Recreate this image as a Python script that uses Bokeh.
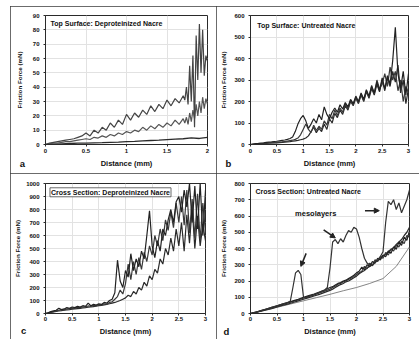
from bokeh.plotting import figure
from bokeh.layouts import column, row
from bokeh.models import Label, Arrow, NormalHead, FixedTicker, Range1d
from bokeh.embed import file_html
from bokeh.resources import INLINE

# ---------------- data ----------------
# Panel a: Top Surface, Deproteinized Nacre (friction force in mN)
XA = [0.0, 0.05, 0.1, 0.15, 0.2, 0.25, 0.3, 0.35, 0.4, 0.45, 0.5, 0.55, 0.6, 0.65, 0.7,
      0.75, 0.8, 0.85, 0.9, 0.95, 1.0, 1.05, 1.1, 1.15, 1.2, 1.25, 1.3, 1.35, 1.4, 1.45,
      1.5, 1.55, 1.6, 1.65, 1.7, 1.72, 1.74, 1.76, 1.78, 1.8, 1.82, 1.84, 1.86, 1.88, 1.9,
      1.92, 1.94, 1.96, 1.98, 2.0]
A1 = [0, 1, 1.5, 2, 2.5, 3, 3.5, 4, 5, 6, 8, 6, 10, 8, 12, 10, 15, 12, 17, 14,
      21, 17, 22, 19, 24, 21, 27, 23, 28, 25, 31, 27, 32, 29, 34, 31, 40, 28, 55, 30,
      62, 12, 76, 45, 84, 50, 80, 48, 62, 58]
A2 = [0, 0.5, 1, 1, 1.5, 2, 2, 2.5, 3, 3.5, 4, 3.5, 5, 4.5, 6, 5, 7, 6, 8, 7,
      9, 8, 10, 9, 12, 10, 13, 11, 14, 12, 15, 13, 17, 14, 18, 15, 19, 14, 22, 16,
      24, 18, 28, 20, 30, 22, 33, 25, 32, 28]
XA3 = [0.0, 0.1, 0.2, 0.3, 0.4, 0.5, 0.6, 0.7, 0.8, 0.9, 1.0, 1.1, 1.2, 1.3, 1.4, 1.5,
       1.6, 1.7, 1.8, 1.9, 2.0]
A3 = [0, 0.3, 0.5, 0.7, 0.9, 1.0, 1.2, 1.3, 1.5, 1.7, 2.0, 2.2, 2.5, 2.8, 3.0, 3.4,
      3.8, 4.0, 4.6, 4.2, 5.0]

# shared distance samples (mm) for panels b, c
XB = [0.0, 0.05, 0.1, 0.15, 0.2, 0.25, 0.3, 0.35, 0.4, 0.45, 0.5, 0.55, 0.6, 0.65, 0.7,
      0.75, 0.8, 0.85, 0.9, 0.95, 1.0, 1.05, 1.1, 1.15, 1.2, 1.25, 1.3, 1.35, 1.4, 1.45,
      1.5, 1.55, 1.6, 1.65, 1.7, 1.75, 1.8, 1.85, 1.9, 1.95, 2.0, 2.05, 2.1, 2.15, 2.2,
      2.25, 2.3, 2.35, 2.4, 2.45, 2.5, 2.55, 2.6, 2.65, 2.7, 2.75, 2.8, 2.85, 2.9, 2.95, 3.0]

# Panel b: Top Surface, Untreated Nacre
B1 = [0, 2, 4, 5, 7, 8, 10, 11, 12, 14, 15, 17, 19, 21, 24, 28, 35, 60, 95, 120,
      135, 110, 75, 95, 120, 100, 140, 115, 175, 140, 120, 150, 170, 150, 185, 165, 195,
      175, 210, 190, 225, 200, 240, 210, 255, 225, 270, 240, 290, 250, 310, 260, 320,
      280, 390, 545, 330, 260, 340, 230, 330]
B2 = [0, 1, 2, 3, 4, 5, 6, 7, 8, 9, 10, 11, 12, 14, 16, 18, 20, 24, 30, 45,
      70, 95, 70, 55, 90, 65, 85, 70, 110, 90, 140, 120, 160, 135, 170, 150, 190,
      165, 205, 185, 220, 195, 235, 205, 250, 220, 275, 235, 300, 260, 280, 330, 270,
      360, 300, 340, 250, 300, 200, 270, 240]
B3 = [0, 1, 2, 2, 3, 4, 5, 6, 7, 7, 8, 9, 10, 11, 12, 13, 15, 17, 19, 22,
      25, 30, 40, 60, 80, 55, 75, 60, 95, 70, 120, 100, 145, 125, 160, 140, 180,
      160, 200, 180, 215, 190, 230, 200, 245, 215, 260, 230, 280, 245, 300, 250, 310,
      270, 340, 290, 370, 240, 300, 190, 260]

# Panel c: Cross Section, Deproteinized Nacre
C1 = [0, 5, 15, 20, 25, 40, 30, 35, 45, 40, 50, 45, 55, 50, 60, 55, 80, 60, 70, 65,
      75, 70, 85, 80, 100, 110, 160, 410, 250, 200, 330, 280, 460, 330, 420, 360, 480,
      420, 600, 790, 520, 430, 560, 480, 650, 600, 720, 800, 700, 860, 900, 780, 950,
      820, 1000, 700, 980, 650, 1000, 600, 950]
C2 = [0, 5, 10, 15, 20, 25, 30, 28, 35, 38, 42, 40, 48, 45, 52, 50, 58, 55, 62, 60,
      68, 66, 75, 72, 85, 90, 110, 130, 180, 150, 230, 380, 260, 400, 300, 430, 340,
      470, 400, 520, 450, 600, 520, 650, 560, 720, 640, 780, 660, 850, 700, 900, 680,
      950, 620, 880, 580, 920, 560, 850, 620]
C3 = [0, 3, 8, 12, 16, 20, 22, 25, 28, 30, 33, 35, 38, 40, 43, 45, 48, 50, 53, 56,
      60, 62, 66, 70, 75, 80, 85, 92, 100, 110, 120, 140, 130, 170, 150, 200, 180,
      240, 210, 290, 260, 340, 310, 420, 380, 500, 450, 580, 480, 650, 520, 700, 480,
      760, 540, 820, 500, 750, 520, 680, 560]

# Panel d: Cross Section, Untreated Nacre
XD = [0.0, 0.1, 0.2, 0.3, 0.4, 0.5, 0.6, 0.7, 0.8, 0.9, 1.0, 1.1, 1.2, 1.3, 1.4, 1.5,
      1.55, 1.6, 1.65, 1.7, 1.75, 1.8, 1.85, 1.9, 1.95, 2.0, 2.05, 2.1, 2.15, 2.2, 2.25,
      2.3, 2.35, 2.4, 2.45, 2.5, 2.55, 2.6, 2.65, 2.7, 2.75, 2.8, 2.85, 2.9, 2.95, 3.0]
D1 = [0, 8, 18, 28, 38, 48, 58, 68, 78, 88, 100, 110, 120, 132, 145, 160,
      165, 175, 185, 190, 200, 205, 215, 225, 235, 250, 260, 285, 270, 300, 290,
      320, 310, 340, 330, 360, 350, 385, 370, 410, 395, 440, 420, 470, 450, 510]
D2 = [0, 7, 16, 25, 34, 44, 54, 64, 74, 84, 95, 105, 115, 126, 138, 150,
      160, 168, 180, 185, 195, 200, 210, 218, 228, 240, 250, 260, 290, 275, 310,
      295, 330, 320, 350, 340, 375, 360, 395, 385, 420, 410, 445, 430, 480, 470]
D3 = [0, 6, 14, 22, 30, 40, 50, 58, 68, 78, 88, 98, 108, 118, 130, 142,
      150, 160, 170, 178, 185, 195, 200, 210, 220, 230, 245, 255, 265, 280, 290,
      300, 315, 325, 340, 355, 365, 380, 395, 405, 425, 440, 455, 480, 500, 530]
XDM = [0.0, 0.1, 0.2, 0.3, 0.4, 0.5, 0.6, 0.7, 0.75, 0.8, 0.85, 0.9, 0.95, 1.0, 1.05,
       1.1, 1.2, 1.3, 1.4, 1.45, 1.5, 1.55, 1.6, 1.65, 1.7, 1.75, 1.8, 1.85, 1.9, 1.95,
       2.0, 2.05, 2.1, 2.15, 2.2, 2.25, 2.3, 2.35, 2.4, 2.45, 2.5, 2.55, 2.6, 2.65, 2.7,
       2.75, 2.8, 2.85, 2.9, 2.95, 3.0]
DM = [0, 8, 18, 28, 38, 48, 58, 68, 75, 160, 250, 265, 240, 100, 95,
      105, 115, 130, 145, 160, 280, 440, 455, 430, 460, 440, 480, 510, 500, 530,
      520, 470, 400, 340, 310, 300, 295, 315, 330, 350, 380, 560, 690, 670, 700,
      640, 680, 620, 660, 700, 760]
XDT = [0.0, 0.25, 0.5, 0.75, 1.0, 1.25, 1.5, 1.75, 2.0, 2.25, 2.5, 2.75, 3.0]
DT = [0, 20, 38, 58, 78, 98, 118, 140, 160, 185, 215, 290, 410]

# ticks
XT_A = [0, 0.5, 1, 1.5, 2]
XL_A = ["0", "0.5", "1", "1.5", "2"]
XT = [0, 0.5, 1, 1.5, 2, 2.5, 3]
XL = ["0", "0.5", "1", "1.5", "2", "2.5", "3"]
YT_A = [0, 10, 20, 30, 40, 50, 60, 70, 80, 90]
YT_B = [0, 100, 200, 300, 400, 500, 600]
YT_C = [0, 100, 200, 300, 400, 500, 600, 700, 800, 900, 1000]
YT_D = [0, 100, 200, 300, 400, 500, 600, 700, 800]

TITLES = ["Top Surface: Deproteinized Nacre", "Top Surface: Untreated Nacre",
          "Cross Section: Deproteinized Nacre", "Cross Section: Untreated Nacre"]
LETTERS = ["a", "b", "c", "d"]

# arrows in panel d: (x_start, y_start, x_end, y_end)
ARROWS_D = [(1.05, 370, 0.95, 290), (1.38, 515, 1.6, 465), (2.16, 633, 2.43, 633)]
MESO_POS = (1.23, 614)

FONT = "Liberation Sans"
INK = "#2a2a2a"
TXT = "#111111"


def panel(w, h, xmax, ymax, xt, xl, yt, borders, ylab_standoff, xstand, clip):
    left, right, top, bottom = borders
    p = figure(width=w, height=h, x_range=Range1d(0, xmax), y_range=Range1d(0, ymax),
               output_backend="svg", toolbar_location=None,
               min_border_left=left, min_border_right=right,
               min_border_top=top, min_border_bottom=bottom,
               background_fill_color="white", border_fill_color="white")
    p.outline_line_color = INK
    p.outline_line_width = 1
    p.styles = {"outline": "1px solid #3a3a3a", "outline-offset": "-1px",
                "clip-path": clip}
    p.xaxis.ticker = FixedTicker(ticks=xt)
    p.xaxis.major_label_overrides = {t: s for t, s in zip(xt, xl)}
    p.yaxis.ticker = FixedTicker(ticks=yt)
    p.yaxis.major_label_overrides = {t: str(t) for t in yt}
    for ax in (p.xaxis[0], p.yaxis[0]):
        ax.axis_line_color = INK
        ax.major_tick_line_color = INK
        ax.major_tick_out = 2
        ax.major_tick_in = 0
        ax.minor_tick_line_color = None
        ax.major_label_text_font = FONT
        ax.major_label_text_font_style = "bold"
        ax.major_label_text_font_size = "6px"
        ax.major_label_text_color = TXT
        ax.axis_label_text_font = FONT
        ax.axis_label_text_font_style = "bold"
        ax.axis_label_text_color = TXT
    p.xaxis.axis_label = "Distance (mm)"
    p.xaxis.axis_label_text_font_size = "7.5px"
    p.xaxis.major_label_standoff = xstand
    p.xaxis.axis_label_standoff = 3
    p.yaxis.axis_label = "Friction Force (mN)"
    p.yaxis.axis_label_text_font_size = "6.2px"
    p.yaxis.major_label_standoff = 4
    p.yaxis.axis_label_standoff = ylab_standoff
    p.grid.grid_line_color = "#e2e2e2"
    p.grid.grid_line_width = 1
    return p


def title_label(p, x, y, text, boxed=False):
    kw = dict(x=x, y=y, text=text, text_font=FONT, text_font_style="bold",
              text_font_size="7px", text_color=TXT, text_baseline="top",
              text_align="left")
    if boxed:
        kw.update(border_line_color="#444", border_line_width=0.8,
                  background_fill_color="white", padding=1)
    p.add_layout(Label(**kw))


def letter(p, x, y, text):
    # hosted in the narrow right side panel so that it may sit outside the frame
    p.add_layout(Label(x=x, y=y, text=text,
                       text_font=FONT, text_font_style="bold", text_font_size="9.5px",
                       text_color=TXT, text_align="center", text_baseline="middle"),
                 "right")


# ---- panel a ----
pa = panel(206, 167, 2, 90, XT_A, XL_A, YT_A, (35, 9, 7, 29), 7, 2, "none")
pa.line(XA3, A3, line_color=INK, line_width=1.3)
pa.line(XA, A2, line_color="#555", line_width=1.2)
pa.line(XA, A1, line_color="#444", line_width=1.2)
title_label(pa, 0.062, 87, TITLES[0])
letter(pa, -0.284, -13.1, LETTERS[0])

# ---- panel b ----
pb = panel(204, 167, 3, 600, XT, XL, YT_B, (34, 12, 9, 29), 4, 2, "inset(0px 1px 0px 0px)")
pb.line(XB, B3, line_color=INK, line_width=1.2)
pb.line(XB, B2, line_color="#3a3a3a", line_width=1.2)
pb.line(XB, B1, line_color="#222", line_width=1.2)
title_label(pb, 0.127, 571, TITLES[1])
letter(pb, -0.418, -88, LETTERS[1])

# ---- panel c ----
pc = panel(206, 167, 3, 1000, XT, XL, YT_C, (35, 11, 10, 26), 2, 1, "inset(0px 0px 1px 0px)")
pc.line(XB, C3, line_color=INK, line_width=1.2)
pc.line(XB, C2, line_color="#3a3a3a", line_width=1.2)
pc.line(XB, C1, line_color="#222", line_width=1.2)
title_label(pc, 0.084, 967, TITLES[2], boxed=True)
letter(pc, -0.41, -134, LETTERS[2])

# ---- panel d ----
pd = panel(204, 167, 3, 800, XT, XL, YT_D, (34, 11, 8, 27), 4, 1, "inset(0px 1px 1px 0px)")
pd.line(XDT, DT, line_color="#777", line_width=0.9)
pd.line(XD, D3, line_color=INK, line_width=1.2)
pd.line(XD, D2, line_color="#3a3a3a", line_width=1.2)
pd.line(XD, D1, line_color="#222", line_width=1.2)
pd.line(XDM, DM, line_color="#333", line_width=1.2)
title_label(pd, 0.094, 775, TITLES[3])
pd.add_layout(Label(x=MESO_POS[0], y=MESO_POS[1], text="mesolayers", text_font=FONT,
                    text_font_style="bold", text_font_size="7.5px", text_color=TXT,
                    text_align="center", text_baseline="middle"))
for (x0, y0, x1, y1) in ARROWS_D:
    pd.add_layout(Arrow(end=NormalHead(size=5, fill_color="#222", line_color="#222"),
                        x_start=x0, y_start=y0, x_end=x1, y_end=y1,
                        line_color="#222", line_width=1.5))
letter(pd, -0.453, -112, LETTERS[3])

layout = column(row(pa, pb), row(pc, pd), margin=(6, 0, 0, 10))
open("out.html", "w").write(file_html(layout, INLINE))
